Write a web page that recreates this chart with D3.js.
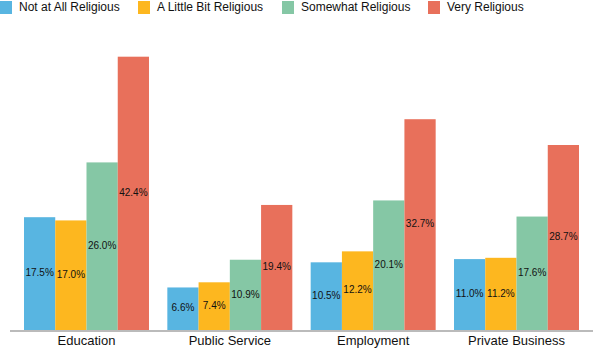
<!DOCTYPE html>
<html>
<head>
<meta charset="utf-8">
<script src="https://cdn.jsdelivr.net/npm/d3@7"></script>
<style>
  body { margin: 0; background: #fff; }
  svg { display: block; font-family: "Liberation Sans", Arial, Helvetica, sans-serif; }
</style>
</head>
<body>
<div id="chart"></div>
<script>
const width = 604;
const height = 353;

const categories = ["Education", "Public Service", "Employment", "Private Business"];
const seriesNames = ["Not at All Religious", "A Little Bit Religious", "Somewhat Religious", "Very Religious"];
const seriesColors = ["#58b5e1", "#fdb71f", "#85c7a5", "#e8705b"];

// one array per series, in category order
const notAtAll = [17.5, 6.6, 10.5, 11.0];
const littleBit = [17.0, 7.4, 12.2, 11.2];
const somewhat = [26.0, 10.9, 20.1, 17.6];
const very = [42.4, 19.4, 32.7, 28.7];
const seriesValues = [notAtAll, littleBit, somewhat, very];

const svg = d3.select("#chart").append("svg")
    .attr("width", width)
    .attr("height", height);

const baseline = 330;

const x0 = d3.scaleBand()
    .domain(categories)
    .range([24, 579])
    .paddingInner(0.128)
    .paddingOuter(0);

const x1 = d3.scaleBand()
    .domain(seriesNames)
    .range([0, x0.bandwidth()])
    .padding(0);

const y = d3.scaleLinear()
    .domain([0, 45])
    .range([baseline, baseline - 45 * 6.446]);

// bars
const groups = svg.append("g").selectAll("g")
    .data(categories)
    .join("g")
    .attr("transform", d => `translate(${x0(d)},0)`);

groups.selectAll("rect")
    .data((c, ci) => seriesNames.map((s, si) => ({ s, si, v: seriesValues[si][ci] })))
    .join("rect")
    .attr("x", d => x1(d.s))
    .attr("y", d => y(d.v))
    .attr("width", x1.bandwidth())
    .attr("height", d => baseline - y(d.v))
    .attr("fill", d => seriesColors[d.si]);

// value labels, centered in each bar
groups.selectAll("text")
    .data((c, ci) => seriesNames.map((s, si) => ({ s, si, v: seriesValues[si][ci] })))
    .join("text")
    .attr("x", d => x1(d.s) + x1.bandwidth() / 2)
    .attr("y", d => (y(d.v) + baseline) / 2)
    .attr("text-anchor", "middle")
    .attr("dominant-baseline", "middle")
    .attr("font-size", "10px")
    .attr("fill", "#111")
    .text(d => d.v.toFixed(1) + "%");

// axis line
svg.append("line")
    .attr("x1", 10)
    .attr("x2", 593)
    .attr("y1", baseline + 1)
    .attr("y2", baseline + 1)
    .attr("stroke", "#bbb")
    .attr("stroke-width", 2);

// category labels
svg.append("g").selectAll("text")
    .data(categories)
    .join("text")
    .attr("x", d => x0(d) + x0.bandwidth() / 2)
    .attr("y", 342)
    .attr("text-anchor", "middle")
    .attr("dominant-baseline", "middle")
    .attr("font-size", "13px")
    .attr("fill", "#111")
    .text(d => d);

// legend
const legendX = [0, 138, 282, 428];
const legend = svg.append("g").selectAll("g")
    .data(seriesNames)
    .join("g")
    .attr("transform", (d, i) => `translate(${legendX[i]},0)`);

legend.append("rect")
    .attr("x", 0)
    .attr("y", 1)
    .attr("width", 12)
    .attr("height", 13)
    .attr("fill", (d, i) => seriesColors[i]);

legend.append("text")
    .attr("x", 19)
    .attr("y", 8)
    .attr("dominant-baseline", "middle")
    .attr("font-size", "12px")
    .attr("fill", "#111")
    .text(d => d);
</script>
</body>
</html>
